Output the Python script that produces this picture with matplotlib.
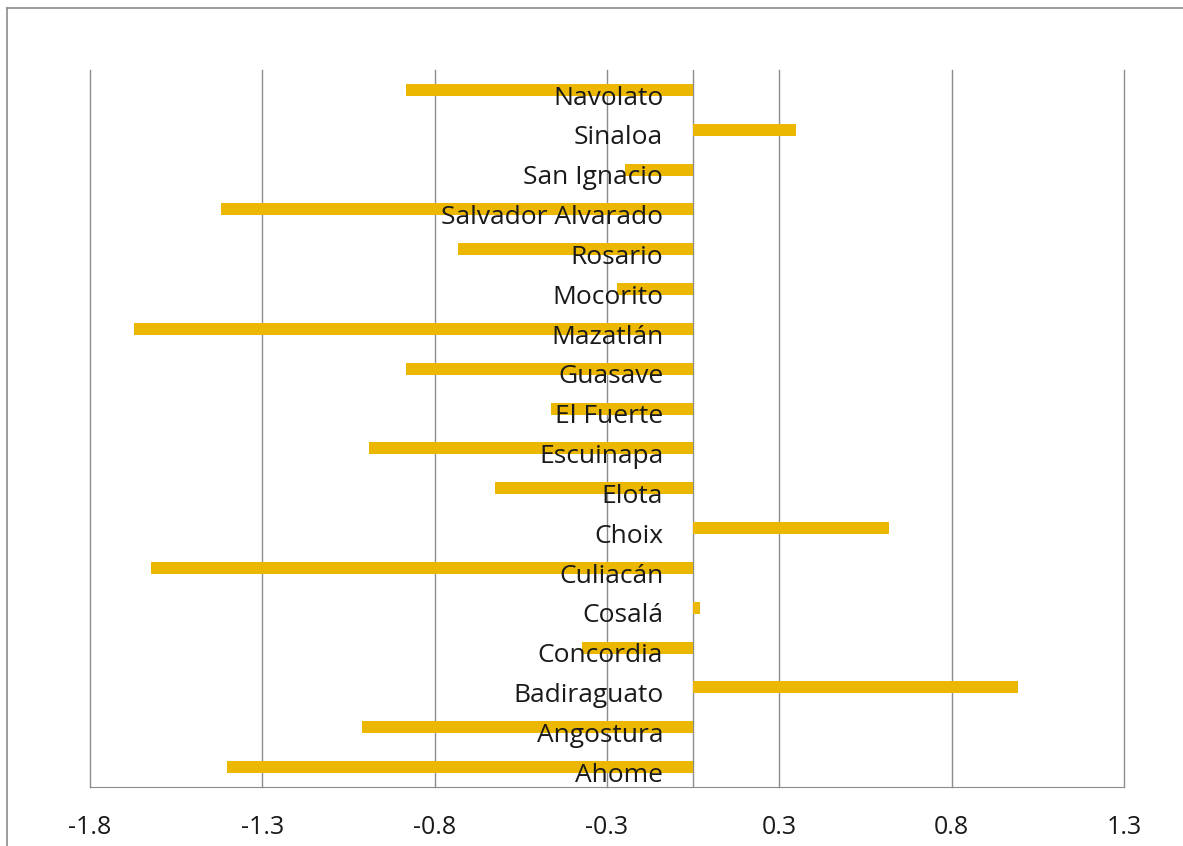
import matplotlib
matplotlib.use("Agg")
import matplotlib.pyplot as plt
from matplotlib.lines import Line2D

categories = ["Ahome", "Angostura", "Badiraguato", "Concordia", "Cosalá", "Culiacán",
              "Choix", "Elota", "Escuinapa", "El Fuerte", "Guasave", "Mazatlán",
              "Mocorito", "Rosario", "Salvador Alvarado", "San Ignacio", "Sinaloa", "Navolato"]
values = [-1.352, -0.96, 0.943, -0.322, 0.02, -1.572,
          0.569, -0.574, -0.94, -0.412, -0.833, -1.622,
          -0.22, -0.682, -1.369, -0.197, 0.299, -0.833]
ticks = [-1.75, -1.25, -0.75, -0.25, 0.25, 0.75, 1.25]
tick_labels = ["-1.8", "-1.3", "-0.8", "-0.3", "0.3", "0.8", "1.3"]

W, H = 1183, 846
fig = plt.figure(figsize=(W / 100, H / 100), dpi=100)
ax = fig.add_axes([90 / W, 1 - 787 / H, (1124 - 90) / W, (787 - 70) / H])

font = ["Open Sans", "DejaVu Sans"]
ypos = list(range(len(categories)))
ax.barh(ypos, values, height=0.3, color="#EBB700", zorder=3)

ax.set_xlim(-1.75, 1.25)
ax.set_ylim(-0.5, len(categories) - 0.5)
ax.set_xticks(ticks)
ax.set_xticklabels(tick_labels, fontfamily=font, fontsize=18, color="#1a1a1a")
ax.set_yticks([])
ax.tick_params(axis="x", length=0, pad=20)
ax.grid(axis="x", color="#8c8c8c", linewidth=1, zorder=0)
for gl in ax.get_xgridlines():
    gl.set_clip_on(False)
for s in ["top", "right", "left"]:
    ax.spines[s].set_visible(False)
ax.spines["bottom"].set_color("#8c8c8c")
ax.axvline(0, color="#8c8c8c", linewidth=1, zorder=2)

for y, c in zip(ypos, categories):
    ax.text(-0.087, y - 0.37, c, ha="right", va="baseline", fontsize=19, fontfamily=font,
            color="#1a1a1a", zorder=4)

# outer frame lines (left and top) of the chart area
fig.add_artist(Line2D([7 / W, 7 / W], [0, 1 - 8 / H], transform=fig.transFigure,
                      color="#8c8c8c", linewidth=1.2))
fig.add_artist(Line2D([7 / W, 1], [1 - 8 / H, 1 - 8 / H], transform=fig.transFigure,
                      color="#8c8c8c", linewidth=1.2))

fig.savefig("out.png", dpi=100)
